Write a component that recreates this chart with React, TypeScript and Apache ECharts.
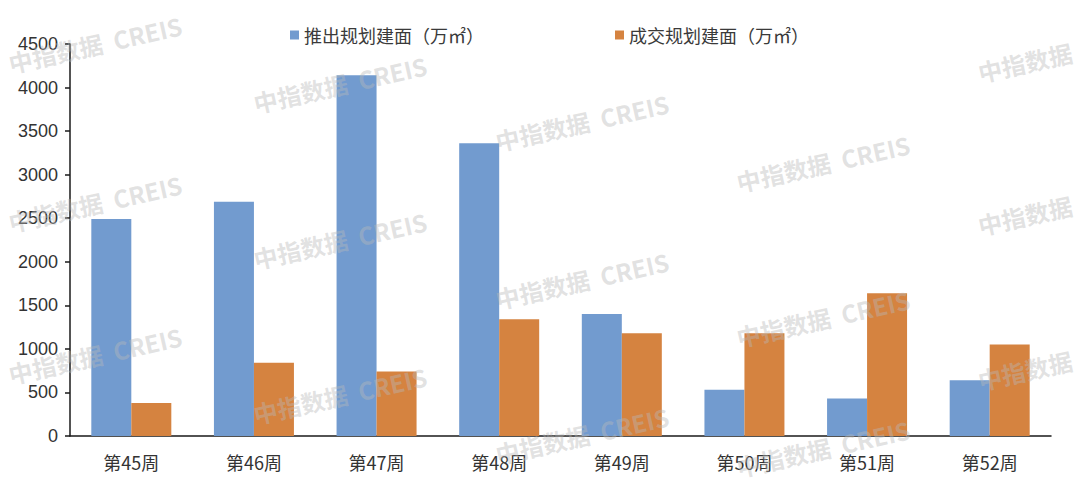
import React, { useEffect, useRef } from "react";
import * as echarts from "echarts";

const categories = ["第45周", "第46周", "第47周", "第48周", "第49周", "第50周", "第51周", "第52周"];
const launchedArea = [2490, 2690, 4140, 3360, 1400, 530, 430, 640];
const tradedArea = [380, 840, 740, 1340, 1180, 1180, 1640, 1050];
const seriesNames = ["推出规划建面（万㎡）", "成交规划建面（万㎡）"];
const watermarkText = "中指数据  CREIS";
const watermarkShort = "中指数据";

const watermarkSpots: [number, number, string][] = [
  [95, 44, watermarkText], [340, 84, watermarkText], [582, 122, watermarkText], [823, 163, watermarkText],
  [1025, 62, watermarkShort],
  [95, 203, watermarkText], [340, 240, watermarkText], [582, 280, watermarkText], [823, 318, watermarkText],
  [1025, 215, watermarkShort],
  [95, 355, watermarkText], [340, 395, watermarkText], [582, 435, watermarkText], [823, 448, watermarkText],
  [1025, 370, watermarkShort],
];

export default function App() {
  const ref = useRef<HTMLDivElement>(null);
  useEffect(() => {
    if (!ref.current) return;
    const chart = echarts.init(ref.current, undefined, { renderer: "svg" });
    const labelFont = "'Liberation Sans', 'Noto Sans CJK SC', sans-serif";
    chart.setOption({
      animation: false,
      backgroundColor: "#ffffff",
      grid: { left: 70, right: 29, top: 44, bottom: 54, containLabel: false },
      legend: {
        left: 285,
        top: 21,
        icon: "rect",
        itemWidth: 9,
        itemHeight: 9,
        itemGap: 131,
        textStyle: { fontSize: 18, color: "#3a3a3a", fontFamily: "'Noto Sans CJK SC', sans-serif" },
        data: seriesNames,
      },
      xAxis: {
        type: "category",
        data: categories,
        axisLine: { show: true, lineStyle: { color: "#1a1a1a", width: 1.5 } },
        axisTick: { show: false },
        axisLabel: { fontSize: 18, color: "#333333", margin: 17, fontFamily: "'Noto Sans CJK SC', sans-serif" },
      },
      yAxis: {
        type: "value",
        min: 0,
        max: 4500,
        interval: 500,
        splitLine: { show: false },
        axisLine: { show: true, lineStyle: { color: "#1a1a1a", width: 1.5 } },
        axisTick: { show: true, length: 5, lineStyle: { color: "#1a1a1a", width: 1.5 } },
        axisLabel: {
          fontSize: 18,
          color: "#333333",
          margin: 12,
          fontFamily: labelFont,
          formatter: (v: number) => String(v),
        },
      },
      series: [
        {
          name: seriesNames[0],
          type: "bar",
          data: launchedArea,
          barWidth: 40,
          barGap: "0%",
          itemStyle: { color: "#729BCF" },
        },
        {
          name: seriesNames[1],
          type: "bar",
          data: tradedArea,
          barWidth: 40,
          barGap: "0%",
          itemStyle: { color: "#D58340" },
        },
      ],
      graphic: watermarkSpots.map(([x, y, text]) => ({
        type: "text",
        x,
        y,
        rotation: 0.22,
        z: 100,
        silent: true,
        style: {
          text,
          fill: "rgba(185,185,185,0.42)",
          fontSize: 24,
          fontWeight: "bold",
          fontFamily: "'Noto Sans CJK SC', sans-serif",
          align: "center",
          verticalAlign: "middle",
        },
      })),
    });
    return () => chart.dispose();
  }, []);
  return <div ref={ref} style={{ width: 1080, height: 490, position: "absolute", left: 0, top: 0 }} />;
}
